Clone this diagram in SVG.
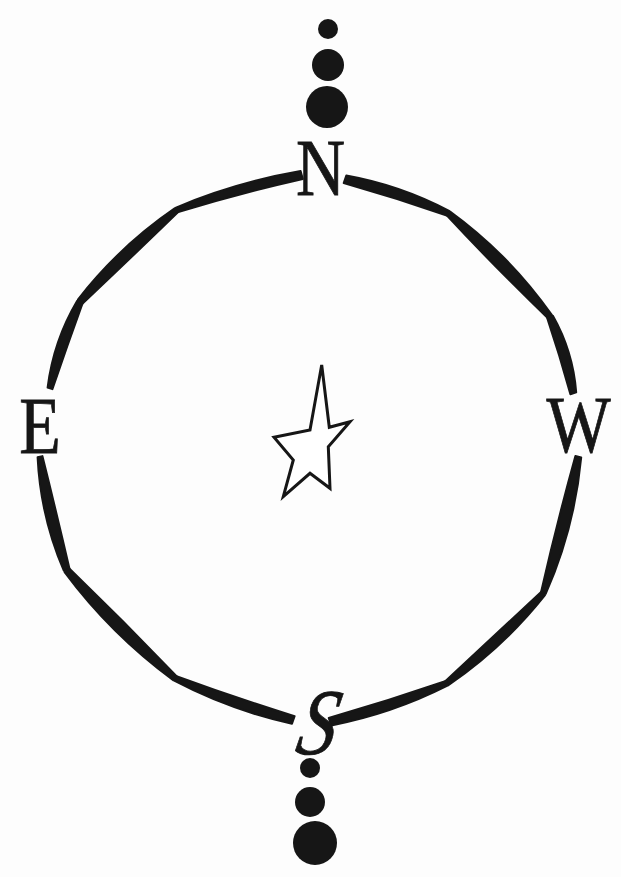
<svg xmlns="http://www.w3.org/2000/svg" width="621" height="877" viewBox="0 0 621 877">
<style>
.ink{fill:#161616}
.ring path{fill:#161616;stroke:#161616;stroke-width:2;stroke-linejoin:round}
.lbl{font-family:"Liberation Serif","Times New Roman",serif;font-size:80px;fill:#161616;stroke:#161616;stroke-width:0.8}
.it{font-style:italic;font-size:94px}
.star{fill:#fff;stroke:#161616;stroke-width:3;stroke-linejoin:miter}
</style>
<rect width="621" height="877" fill="#fdfdfd"/>
<g id="ring" class="ring">
<path d="M300.6,171.1 Q236.2,182.2 176.0,207.6 L177.4,212.4 Q239.4,193.2 302.8,178.9 Z"/>
<path d="M175.0,208.2 Q119.3,246.3 77.9,299.5 L82.1,303.9 Q130.6,258.2 178.4,211.8 Z"/>
<path d="M77.2,300.7 Q53.4,341.0 47.6,387.5 L52.4,389.1 Q67.2,345.8 82.8,302.7 Z"/>
<path d="M343.7,183.1 Q396.1,198.0 447.5,215.7 L449.1,210.9 Q400.4,185.2 346.3,175.5 Z"/>
<path d="M446.5,215.1 Q496.0,268.2 548.2,318.5 L551.8,314.9 Q509.5,254.8 450.1,211.5 Z"/>
<path d="M547.1,317.6 Q559.8,355.5 570.4,394.2 L576.2,392.4 Q573.1,351.5 552.9,315.8 Z"/>
<path d="M37.6,457.3 Q40.4,516.3 63.8,570.7 L69.6,569.3 Q56.5,512.6 42.4,456.1 Z"/>
<path d="M64.6,572.1 Q110.8,634.2 173.2,680.1 L176.8,676.5 Q123.9,621.1 68.8,567.9 Z"/>
<path d="M174.2,680.7 Q230.2,710.2 292.0,723.8 L294.6,716.2 Q234.7,697.5 175.8,675.9 Z"/>
<path d="M575.4,456.0 Q556.6,523.9 540.9,592.7 L545.7,593.9 Q574.6,528.5 581.2,457.4 Z"/>
<path d="M541.6,591.5 Q493.3,636.5 445.0,681.5 L448.4,685.1 Q503.5,647.5 545.0,595.1 Z"/>
<path d="M445.9,680.9 Q387.8,700.9 328.7,717.9 L331.3,725.5 Q392.1,713.7 447.5,685.7 Z"/>
</g>
<g id="north">
<circle class="ink" cx="328" cy="29" r="10"/>
<circle class="ink" cx="328" cy="65" r="16"/>
<circle class="ink" cx="327" cy="107" r="21"/>
<text class="lbl" text-anchor="middle" transform="translate(320.5,195) scale(0.85,1)">N</text>
</g>
<g id="east">
<text class="lbl" text-anchor="middle" transform="translate(40,453) scale(0.85,1)">E</text>
</g>
<g id="west">
<text class="lbl" text-anchor="middle" transform="translate(578.5,452) scale(0.85,1)">W</text>
</g>
<g id="south">
<text class="lbl it" text-anchor="middle" transform="translate(313,754) scale(0.82,1) skewX(-14)">S</text>
<circle class="ink" cx="310" cy="768" r="10"/>
<circle class="ink" cx="310" cy="802" r="15"/>
<circle class="ink" cx="315" cy="843" r="22"/>
</g>
<g id="star">
<polygon class="star" points="321.7,365 329.3,427.3 350,421.7 328.3,446.7 330,488.3 310,473.3 283.3,496.7 293.3,460 274,437.3 310,430"/>
</g>
</svg>
